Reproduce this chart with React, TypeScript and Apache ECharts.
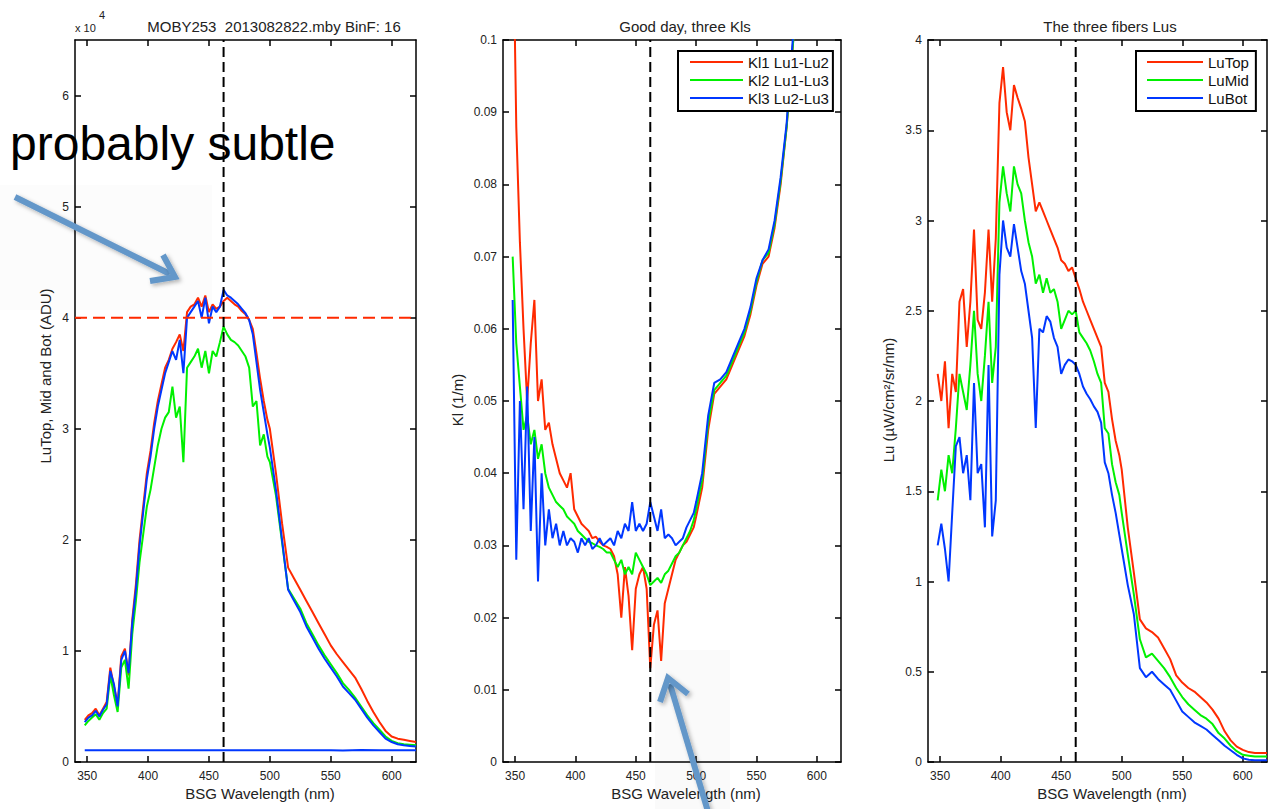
import React, { useEffect, useRef } from "react";
import * as echarts from "echarts";

const FONT = '"Liberation Sans", Arial, Helvetica, sans-serif';
const RED = "#ff2a00";
const GREEN = "#00f000";
const BLUE = "#0037ff";

// Wavelength grid (nm)
const WL = [
  348, 351, 354, 357, 360, 363, 366, 369, 372, 375,
  378, 381, 384, 387, 390, 393, 396, 399, 402, 405,
  408, 411, 414, 417, 420, 423, 426, 429, 432, 435,
  438, 441, 444, 447, 450, 453, 456, 459, 462, 465,
  468, 471, 474, 477, 480, 483, 486, 489, 492, 495,
  498,
  500, 505, 510, 515, 520, 525, 530, 535, 540, 545,
  550, 555, 560, 565, 570, 575, 580, 585, 590, 595,
  600, 605, 610, 615, 620,
];

const X_MIN = 340;
const X_MAX = 620;
const X_TICKS = [350, 400, 450, 500, 550, 600];
const MARK_WL = 462;

// Panel 1: raw counts, in units of 1e4 ADU
const ADU_TOP = [
  0.38, 0.42, 0.44, 0.48, 0.42, 0.48, 0.54, 0.85, 0.68, 0.52,
  0.95, 1.02, 0.78, 1.28, 1.6, 2.0, 2.3, 2.6, 2.8, 3.05,
  3.25, 3.4, 3.55, 3.62, 3.72, 3.78, 3.85, 3.7, 4.05, 4.1,
  4.12, 4.18, 4.1, 4.2, 4.05, 4.12, 4.08, 4.1, 4.15, 4.18,
  4.15, 4.12, 4.1, 4.06, 4.03, 3.98, 3.9, 3.68, 3.45, 3.25,
  3.08,
  3.0, 2.6, 2.15, 1.75, 1.65, 1.55, 1.45, 1.35, 1.25, 1.15,
  1.05, 0.97, 0.9, 0.83, 0.76, 0.66, 0.55, 0.45, 0.36, 0.28,
  0.23, 0.21, 0.2, 0.19, 0.18,
];
const ADU_MID = [
  0.33, 0.37, 0.4, 0.43, 0.38, 0.44, 0.48, 0.78, 0.6, 0.45,
  0.85, 0.92, 0.66, 1.15, 1.45, 1.8, 2.05, 2.3, 2.45, 2.65,
  2.85, 3.0, 3.1, 3.15, 3.38, 3.1, 3.2, 2.7, 3.55, 3.6,
  3.65, 3.72, 3.55, 3.7, 3.5, 3.7, 3.65, 3.78, 3.92, 3.85,
  3.8, 3.78, 3.75, 3.7, 3.65, 3.55, 3.2, 3.25, 2.85, 2.95,
  2.75,
  2.7, 2.4, 1.98, 1.56, 1.47, 1.38, 1.25, 1.15, 1.05, 0.96,
  0.88, 0.8, 0.71, 0.65, 0.58, 0.5, 0.42, 0.35, 0.29, 0.23,
  0.19, 0.17, 0.16, 0.155, 0.15,
];
const ADU_BOT = [
  0.36, 0.4, 0.42, 0.46, 0.41, 0.47, 0.52, 0.82, 0.7, 0.5,
  0.92, 1.0, 0.8, 1.25, 1.55, 1.95, 2.25, 2.55, 2.75, 3.0,
  3.2, 3.35, 3.5, 3.6, 3.7, 3.62, 3.8, 3.5, 4.0, 4.05,
  4.1, 4.15, 4.0, 4.18, 3.95, 4.1, 4.05, 4.1, 4.25, 4.2,
  4.18, 4.15, 4.12, 4.08, 4.04, 3.98, 3.85, 3.6, 3.35, 3.15,
  2.95,
  2.83, 2.45, 2.0, 1.55, 1.45, 1.35, 1.22, 1.12, 1.02, 0.93,
  0.85, 0.77, 0.68, 0.62, 0.56, 0.48, 0.4, 0.33, 0.27, 0.21,
  0.18, 0.16, 0.15, 0.145, 0.14,
];
const DARK_WL = [348, 420, 505, 550, 560, 575, 590, 600, 620];
const DARK = [0.105, 0.105, 0.106, 0.105, 0.104, 0.107, 0.105, 0.106, 0.105];
const ADU_LEVEL = 4;
const Y1_TICKS = [0, 1, 2, 3, 4, 5, 6];

// Panel 2: Kl (1/m)
const KL1 = [
  0.12, 0.088, 0.072, 0.06, 0.05, 0.058, 0.064, 0.05, 0.053, 0.046,
  0.047, 0.044, 0.042, 0.04, 0.039, 0.038, 0.04, 0.035, 0.034, 0.033,
  0.0325, 0.032, 0.031, 0.0312, 0.0305, 0.03, 0.0298, 0.0295, 0.0285, 0.026,
  0.02, 0.027, 0.023, 0.0155, 0.024, 0.026, 0.027, 0.024, 0.013, 0.019,
  0.021, 0.014, 0.022, 0.024, 0.026, 0.028, 0.029, 0.03, 0.0305, 0.0315,
  0.0325,
  0.034, 0.038, 0.046, 0.051, 0.052, 0.053, 0.055, 0.057, 0.059, 0.062,
  0.066, 0.069, 0.07, 0.074, 0.08, 0.088, 0.099, 0.11, 0.12, 0.13,
  0.14, 0.15, 0.16, 0.17, 0.18,
];
const KL2 = [
  0.07, 0.058, 0.052, 0.046, 0.048, 0.044, 0.046, 0.042, 0.044, 0.04,
  0.038, 0.037, 0.036, 0.0355, 0.035, 0.034, 0.0335, 0.033, 0.032, 0.0315,
  0.031, 0.0305, 0.0303, 0.03, 0.0298, 0.0295, 0.029, 0.029, 0.028, 0.027,
  0.028, 0.026, 0.027, 0.026, 0.029, 0.028, 0.027, 0.026, 0.0245, 0.025,
  0.0255, 0.0248, 0.026, 0.0265, 0.0275, 0.0285, 0.029, 0.03, 0.031, 0.032,
  0.0335,
  0.035, 0.039, 0.047, 0.0515, 0.0525, 0.0535, 0.0555, 0.0575, 0.0595, 0.0625,
  0.0665, 0.0695, 0.0705, 0.0745, 0.0805, 0.088, 0.099, 0.11, 0.12, 0.13,
  0.14, 0.15, 0.16, 0.17, 0.18,
];
const KL3 = [
  0.064, 0.028, 0.05, 0.035, 0.052, 0.032, 0.045, 0.025, 0.04, 0.03,
  0.035, 0.031, 0.033, 0.03, 0.032, 0.03, 0.031, 0.0305, 0.029, 0.031,
  0.03, 0.031, 0.0295, 0.03, 0.031, 0.03, 0.0305, 0.031, 0.03, 0.032,
  0.031, 0.033, 0.032, 0.036, 0.032, 0.033, 0.032, 0.033, 0.036, 0.034,
  0.032, 0.035, 0.031, 0.0315, 0.031, 0.03, 0.0305, 0.031, 0.0325, 0.0335,
  0.0345,
  0.036, 0.04, 0.048, 0.0525, 0.053, 0.054, 0.056, 0.058, 0.06, 0.063,
  0.067, 0.0695, 0.071, 0.075, 0.081, 0.0885, 0.1, 0.11, 0.12, 0.13,
  0.14, 0.15, 0.16, 0.17, 0.18,
];
const Y2_TICKS = [0, 0.01, 0.02, 0.03, 0.04, 0.05, 0.06, 0.07, 0.08, 0.09, 0.1];

// Panel 3: Lu (uW/cm2/sr/nm)
const LU_TOP = [
  2.15, 2.0, 2.22, 1.85, 2.15, 2.05, 2.55, 2.62, 2.3, 2.55,
  2.95, 2.45, 2.4, 2.6, 2.95, 2.55, 2.9, 3.65, 3.85, 3.6,
  3.5, 3.75, 3.68, 3.62, 3.55, 3.35, 3.2, 3.05, 3.1, 3.05,
  3.0, 2.95, 2.9, 2.85, 2.78, 2.76, 2.72, 2.74, 2.68, 2.62,
  2.55, 2.5, 2.45, 2.4, 2.35, 2.3, 2.1, 2.05, 1.9, 1.78,
  1.7,
  1.62, 1.3, 1.05, 0.79, 0.74, 0.72, 0.69, 0.63, 0.57, 0.48,
  0.44, 0.41, 0.39, 0.36, 0.33, 0.29, 0.24, 0.17, 0.12, 0.085,
  0.067, 0.055, 0.05, 0.05, 0.05,
];
const LU_MID = [
  1.45, 1.62, 1.5, 1.7, 1.6, 1.85, 2.15, 2.05, 1.95, 2.2,
  2.5, 2.15, 2.0, 2.25, 2.55, 2.1, 2.3, 3.1, 3.3, 3.15,
  3.05, 3.3, 3.2, 3.15, 3.0, 2.88, 2.8, 2.65, 2.7, 2.6,
  2.68, 2.6, 2.62, 2.55, 2.4, 2.45, 2.5, 2.48, 2.5, 2.38,
  2.35, 2.32, 2.28, 2.22, 2.15, 2.1, 1.85, 1.82, 1.65, 1.55,
  1.48,
  1.38, 1.15, 0.93, 0.68, 0.58, 0.6, 0.56, 0.52, 0.47, 0.41,
  0.36, 0.32, 0.29, 0.26, 0.24, 0.21, 0.16, 0.13, 0.09, 0.06,
  0.04, 0.035, 0.03, 0.03, 0.03,
];
const LU_BOT = [
  1.2, 1.32, 1.18, 1.0, 1.38, 1.75, 1.8, 1.6, 1.7, 1.45,
  2.1, 1.6, 1.65, 1.3, 2.2, 1.25, 1.45, 2.7, 3.0, 2.85,
  2.8, 2.98, 2.85, 2.72, 2.65, 2.5, 2.35, 1.85, 2.4, 2.38,
  2.47, 2.44, 2.35, 2.3, 2.15, 2.2, 2.23, 2.22, 2.2, 2.15,
  2.08, 2.04, 2.01, 1.97, 1.94, 1.88, 1.66, 1.6, 1.48, 1.38,
  1.26,
  1.18, 0.98, 0.82, 0.52, 0.47, 0.5, 0.46, 0.43, 0.4, 0.34,
  0.28, 0.25, 0.22, 0.2, 0.18, 0.15, 0.12, 0.09, 0.065, 0.04,
  0.02, 0.012, 0.01, 0.01, 0.01,
];
const Y3_TICKS = [0, 0.5, 1, 1.5, 2, 2.5, 3, 3.5, 4];

const pairs = (xs: number[], ys: number[]) => xs.map((x, i) => [x, ys[i]]);

const fmt = (v: number) => String(Number(v.toFixed(3)));

function axisPair(grid: number, dim: "x" | "y", min: number, max: number, ticks: number[]) {
  const common = {
    gridIndex: grid,
    type: "value",
    min,
    max,
    splitLine: { show: false },
    axisLine: { show: true, onZero: false, lineStyle: { color: "#000", width: 1.5 } },
    axisTick: {
      show: true,
      inside: true,
      length: 6,
      customValues: ticks,
      lineStyle: { color: "#000", width: 1.5 },
    },
  };
  const main = {
    ...common,
    position: dim === "x" ? "bottom" : "left",
    axisLabel: {
      show: true,
      customValues: ticks,
      formatter: (v: number) => fmt(v),
      fontSize: 12,
      fontFamily: FONT,
      color: "#222",
      margin: dim === "x" ? 8 : 6,
    },
  };
  const mirror = {
    ...common,
    position: dim === "x" ? "top" : "right",
    axisLabel: { show: false },
  };
  return [main, mirror];
}

function lineSeries(name: string, grid: number, data: number[][], color: string, extra: any = {}) {
  return {
    type: "line",
    name,
    xAxisIndex: grid * 2,
    yAxisIndex: grid * 2,
    data,
    showSymbol: false,
    symbol: "none",
    silent: true,
    clip: true,
    lineStyle: { color, width: 2, ...(extra.lineStyle || {}) },
    itemStyle: { color },
    z: extra.z ?? 2,
  };
}

function legendFor(names: string[], left: number, itemWidth: number, padding: number[]) {
  return {
    data: names,
    left,
    top: 51,
    orient: "vertical",
    icon: "rect",
    itemWidth,
    itemHeight: 2,
    itemGap: 0,
    padding,
    borderColor: "#000",
    borderWidth: 2,
    backgroundColor: "#fff",
    selectedMode: false,
    textStyle: { fontSize: 15, fontFamily: FONT, color: "#111", lineHeight: 18 },
  };
}

function txt(text: string, x: number, y: number, fontSize: number, extra: any = {}) {
  const align = extra.align || "center";
  return {
    type: "text",
    x,
    y,
    rotation: extra.rotation || 0,
    z: 50,
    silent: true,
    style: {
      text,
      x: 0,
      y: 0,
      fontSize,
      fontFamily: FONT,
      fill: extra.fill || "#222",
      align,
      textAlign: align,
      verticalAlign: "middle",
      textVerticalAlign: "middle",
    },
  };
}

const ARROW = "#6497c9";
const arrowStyle = {
  stroke: ARROW,
  lineWidth: 6,
  fill: "none",
  lineJoin: "miter",
  lineCap: "butt",
  shadowBlur: 4,
  shadowColor: "rgba(0,0,0,0.3)",
  shadowOffsetX: 2,
  shadowOffsetY: 2,
};

export default function App() {
  const ref = useRef<HTMLDivElement>(null);

  useEffect(() => {
    if (!ref.current) return;
    const chart = echarts.init(ref.current, null, { renderer: "svg" });

    const [x0, x0t] = axisPair(0, "x", X_MIN, X_MAX, X_TICKS);
    const [x1, x1t] = axisPair(1, "x", X_MIN, X_MAX, X_TICKS);
    const [x2, x2t] = axisPair(2, "x", X_MIN, X_MAX, X_TICKS);
    const [y0, y0r] = axisPair(0, "y", 0, 6.5, Y1_TICKS);
    const [y1, y1r] = axisPair(1, "y", 0, 0.1, Y2_TICKS);
    const [y2, y2r] = axisPair(2, "y", 0, 4, Y3_TICKS);

    const dashBlack = { lineStyle: { type: [10, 5], color: "#000", width: 2 }, z: 5 };

    const option: any = {
      animation: false,
      backgroundColor: "#fff",
      grid: [
        { left: 75, top: 40, width: 341, height: 722 },
        { left: 503, top: 40, width: 338, height: 722 },
        { left: 928, top: 40, width: 339, height: 722 },
      ],
      xAxis: [x0, x0t, x1, x1t, x2, x2t],
      yAxis: [y0, y0r, y1, y1r, y2, y2r],
      legend: [
        legendFor(["Kl1 Lu1-Lu2", "Kl2 Lu1-Lu3", "Kl3 Lu2-Lu3"], 678, 53, [2, 4, 4, 12]),
        legendFor(["LuTop", "LuMid", "LuBot"], 1136, 56, [2, 7, 4, 11]),
      ],
      series: [
        // Panel 1
        lineSeries("ADU Top", 0, pairs(WL, ADU_TOP), RED),
        lineSeries("ADU Mid", 0, pairs(WL, ADU_MID), GREEN),
        lineSeries("ADU Bot", 0, pairs(WL, ADU_BOT), BLUE),
        lineSeries("ADU dark", 0, pairs(DARK_WL, DARK), BLUE),
        lineSeries("ADU level", 0, [[X_MIN, ADU_LEVEL], [X_MAX, ADU_LEVEL]], RED, {
          lineStyle: { type: [12, 6], width: 2 },
          z: 5,
        }),
        lineSeries("mark 1", 0, [[MARK_WL, 0], [MARK_WL, 6.5]], "#000", dashBlack),
        // Panel 2
        lineSeries("Kl1 Lu1-Lu2", 1, pairs(WL, KL1), RED),
        lineSeries("Kl2 Lu1-Lu3", 1, pairs(WL, KL2), GREEN),
        lineSeries("Kl3 Lu2-Lu3", 1, pairs(WL, KL3), BLUE),
        lineSeries("mark 2", 1, [[MARK_WL, 0], [MARK_WL, 0.1]], "#000", dashBlack),
        // Panel 3
        lineSeries("LuTop", 2, pairs(WL, LU_TOP), RED),
        lineSeries("LuMid", 2, pairs(WL, LU_MID), GREEN),
        lineSeries("LuBot", 2, pairs(WL, LU_BOT), BLUE),
        lineSeries("mark 3", 2, [[MARK_WL, 0], [MARK_WL, 4]], "#000", dashBlack),
      ],
      graphic: [
        { type: "rect", z: -1, silent: true, shape: { x: 0, y: 185, width: 212, height: 125 }, style: { fill: "#fcfcfc" } },
        { type: "rect", z: -1, silent: true, shape: { x: 655, y: 650, width: 75, height: 159 }, style: { fill: "#fafafa" } },
        txt("MOBY253  2013082822.mby BinF: 16", 274, 26, 15),
        txt("Good day, three Kls", 685, 26, 15),
        txt("The three fibers Lus", 1110, 26, 15),
        txt("x 10", 75, 28, 11, { align: "left" }),
        txt("4", 99, 15, 11, { align: "left" }),
        txt("BSG Wavelength (nm)", 260, 793, 15),
        txt("BSG Wavelength (nm)", 686, 793, 15),
        txt("BSG Wavelength (nm)", 1112, 793, 15),
        txt("LuTop, Mid and Bot (ADU)", 45, 376, 15, { rotation: Math.PI / 2 }),
        txt("Kl (1/m)", 457, 400, 15, { rotation: Math.PI / 2 }),
        txt("Lu (\u00b5W/cm\u00b2/sr/nm)", 888, 400, 15, { rotation: Math.PI / 2 }),
        {
          type: "text",
          x: 10,
          y: 143,
          z: 60,
          silent: true,
          style: {
            text: "probably subtle",
            x: 0,
            y: 0,
            fontSize: 48,
            fontFamily: FONT,
            fill: "#000",
            align: "left",
            textAlign: "left",
            verticalAlign: "middle",
            textVerticalAlign: "middle",
          },
        },
        { type: "polyline", z: 60, silent: true, shape: { points: [[15, 197], [170, 274]] }, style: arrowStyle },
        { type: "polyline", z: 60, silent: true, shape: { points: [[150, 281], [175, 277], [163, 255]] }, style: arrowStyle },
        { type: "polyline", z: 60, silent: true, shape: { points: [[709, 815], [670, 684]] }, style: arrowStyle },
        { type: "polyline", z: 60, silent: true, shape: { points: [[660, 702], [668, 678], [688, 694]] }, style: arrowStyle },
      ],
    };

    chart.setOption(option);
    return () => chart.dispose();
  }, []);

  return (
    <div
      ref={ref}
      style={{ position: "fixed", left: 0, top: 0, width: 1268, height: 809, background: "#fff" }}
    />
  );
}
